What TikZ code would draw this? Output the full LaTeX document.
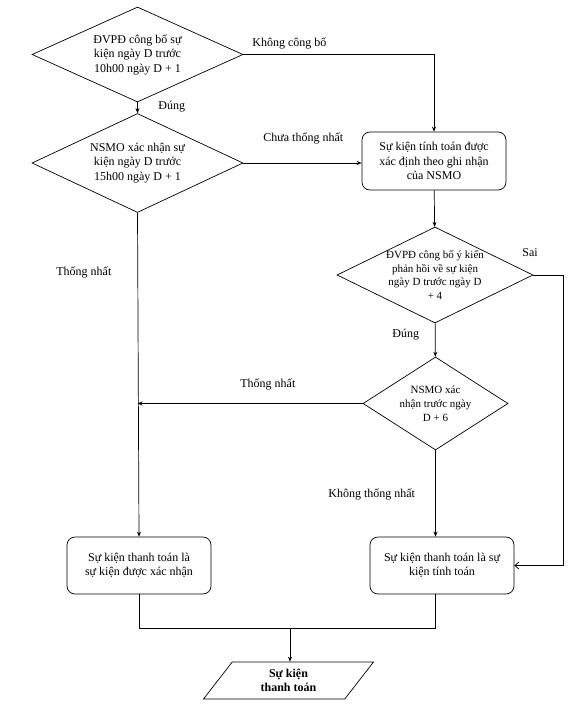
\documentclass[tikz,border=0pt]{standalone}
\usepackage{fontspec}
\setmainfont{Liberation Serif}
\usetikzlibrary{shapes.geometric,arrows.meta}

\begin{document}
\begin{tikzpicture}[x=1pt,y=-1pt,->,>={Stealth[length=5pt,width=4pt]},line width=0.7pt,
    font=\fontsize{12}{14.5}\selectfont,
    decision node/.style={diamond,draw,inner sep=0pt,align=center},
    process node/.style={rectangle,rounded corners=8pt,draw,minimum width=144pt,minimum height=57pt,align=center},
    io node/.style={trapezium,trapezium left angle=46,trapezium right angle=134,trapezium stretches body,draw,minimum width=170pt,minimum height=37pt,align=center,font=\fontsize{12}{14.5}\selectfont\bfseries},
    small text/.style={font=\fontsize{11}{13.8}\selectfont},
    label node/.style={anchor=west,inner sep=0pt}]
    \useasboundingbox (0,0) rectangle (575,707);

    \node[decision node,aspect=2.22,minimum width=211pt,minimum height=95pt] (1) at (137.5,54.5) {ĐVPĐ công bố sự\\kiện ngày D trước\\10h00 ngày D + 1};
    \node[decision node,aspect=2.13,minimum width=211pt,minimum height=99pt] (2) at (137.5,163) {NSMO xác nhận sự\\kiện ngày D trước\\15h00 ngày D + 1};
    \node[process node,minimum height=58pt] (3) at (434,161) {Sự kiện tính toán được\\xác định theo ghi nhận\\của NSMO};
    \node[decision node,small text,inner sep=-5pt,aspect=2.04,minimum width=196pt,minimum height=96pt] (4) at (435,275) {ĐVPĐ công bố ý kiến\\phản hồi về sự kiện\\ngày D trước ngày D\\+ 4};
    \node[decision node,small text,aspect=1.56,minimum width=145pt,minimum height=93pt] (5) at (435.5,403.5) {NSMO xác\\nhận trước ngày\\D + 6};
    \node[process node] (6) at (139,565.5) {Sự kiện thanh toán là\\sự kiện được xác nhận};
    \node[process node] (7) at (442,565.5) {Sự kiện thanh toán là sự\\kiện tính toán};
    \node[io node] (8) at (288.5,680.5) {Sự kiện\\thanh toán};

    \coordinate (9) at (563,565.5);
    \coordinate (10) at (290,628);

    % labels
    \node[label node] (11) at (252,43) {Không công bố};
    \node[label node] (12) at (158,107) {Đúng};
    \node[label node] (13) at (263,138) {Chưa thống nhất};
    \node[label node] (14) at (56,272) {Thống nhất};
    \node[label node] (15) at (522,253) {Sai};
    \node[label node] (16) at (392,335) {Đúng};
    \node[label node] (17) at (240,384) {Thống nhất};
    \node[label node] (18) at (328,494) {Không thống nhất};

    \draw (1) -- (2);
    \draw (1.east) -| (3.north);
    \draw (2.east) -- (2.east -| 3.west);
    \draw (3) -- (4);
    \draw (4) -- (5);
    \draw[-{Straight Barb[length=4pt,width=7pt]}] (4.east) -| (9) -- (7.east);
    \draw (5.west) -- (5.west -| 2.south);
    \draw (2.south) -- (6.north);
    \draw (5.south) -- (5.south |- 7.north);
    \draw[-] (6.south) |- (10);
    \draw[-] (7.south -| 5.south) |- (10);
    \draw (10) -- (10 |- 8.north);
\end{tikzpicture}
\end{document}
